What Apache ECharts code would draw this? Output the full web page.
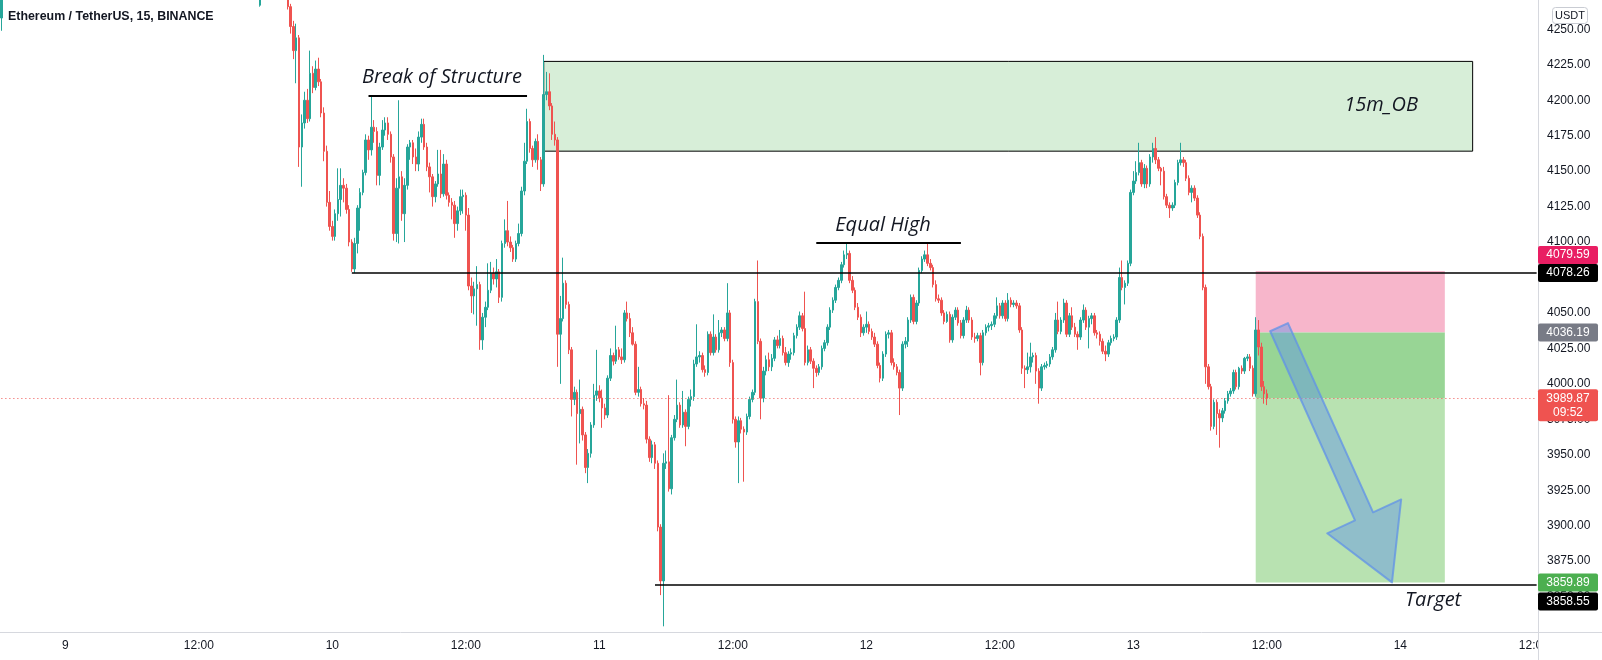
<!DOCTYPE html>
<html><head><meta charset="utf-8">
<script src="https://cdn.jsdelivr.net/npm/echarts@6/dist/echarts.min.js"></script>
<style>html,body{margin:0;padding:0;background:#fff}#c{width:1602px;height:660px}</style>
</head><body><div id="c"></div>
<script>
// ---------- DATA ----------
const slotCount = 553;                 // 15-minute slots on the time axis
const startDay = 8, startMinute = 18 * 60 + 15;
const timeTickLabels = ['9', '12:00', '10', '12:00', '11', '12:00', '12', '12:00', '13', '12:00', '14', '12:00'];
const firstTickSlot = 23, slotsPerTick = 48;
const priceMin = 3825, priceMax = 4270.7, priceStep = 25;

const leftEdgeCandle = [4258, 4290, 4249, 4295]; // slot 0  [open, close, low, high]
const candleStart = 93;
const ohlc = [
[4267,4280,4266,4290], null,null,null,null,null,null,null,null,null,
[4285,4266,4264,4292],[4266,4252,4247,4268],[4252,4235,4229,4256],[4235,4244,4212,4254],[4244,4167,4153,4246],
[4167,4184,4139,4190],[4184,4200,4180,4206],[4200,4187,4184,4208],[4187,4219,4185,4235],[4219,4209,4205,4224],
[4209,4222,4207,4228],[4222,4213,4210,4230],[4213,4191,4188,4215],[4191,4164,4157,4195],[4164,4128,4125,4168],
[4128,4111,4108,4136],[4111,4104,4101,4115],[4104,4120,4101,4123],[4120,4130,4115,4152],[4130,4140,4118,4152],
[4140,4138,4128,4145],[4138,4123,4120,4141],[4123,4100,4097,4126],[4100,4081,4079,4102],[4081,4099,4078.26,4103],
[4099,4124,4092,4126],[4124,4135,4108,4138],[4135,4149,4133,4151],[4149,4172,4147,4176],[4172,4165,4158,4175],
[4165,4181,4161,4203],[4181,4178,4170,4186],[4178,4147,4140,4181],[4147,4167,4140,4170],[4167,4179,4165,4186],
[4179,4184,4175,4188],[4184,4176,4172,4188],[4176,4160,4156,4178],[4160,4106,4101,4162],[4106,4138,4100,4145],
[4138,4146,4099,4200],[4146,4120,4115,4150],[4120,4140,4100,4145],[4140,4167,4137,4169],[4167,4170,4158,4172],
[4170,4160,4155,4172],[4160,4155,4150,4166],[4155,4174,4150,4178],[4174,4183,4170,4187],[4183,4167,4165,4187],
[4167,4153,4150,4170],[4153,4146,4135,4156],[4146,4132,4125,4148],[4132,4141,4128,4143],[4141,4148,4139,4165],
[4148,4134,4131,4165],[4134,4155,4132,4162],[4155,4133,4130,4158],[4133,4128,4125,4135],[4128,4126,4116,4131],
[4126,4113,4103,4129],[4113,4122,4108,4125],[4122,4132,4119,4137],[4132,4133,4120,4137],[4133,4119,4108,4135],
[4119,4069,4066,4124],[4069,4062,4050,4075],[4062,4067,4049,4072],[4067,4070,4041,4083],[4070,4031,4024,4072],
[4031,4047,4024,4050],[4047,4054,4040,4058],[4054,4066,4052,4085],[4066,4078,4064,4086],[4078,4074,4070,4082],
[4074,4079,4068,4088],[4079,4061,4057,4081],[4061,4099,4058,4101],[4099,4108,4096,4116],[4108,4100,4097,4129],
[4100,4096,4093,4104],[4096,4088,4086,4098],[4088,4099,4086,4101],[4099,4106,4097,4113],[4106,4136,4104,4139],
[4136,4157,4133,4170],[4157,4185,4155,4194],[4185,4166,4163,4187],[4166,4158,4153,4168],[4158,4171,4156,4173],
[4171,4158,4151,4176],[4158,4141,4136,4160],[4141,4204,4139,4232],[4204,4206,4200,4220],[4206,4196,4193,4219],
[4196,4176,4172,4198],[4176,4172,4168,4185],[4172,4035,4012,4174],[4035,4046,4000,4062],[4046,4071,4044,4089],
[4071,4056,4053,4073],[4056,4024,4021,4058],[4024,3989,3977,4026],[3989,3994,3985,3998],[3994,3979,3943,3996],
[3979,3982,3958,4003],[3982,3964,3960,3984],[3964,3941,3937,3966],[3941,3951,3930,3954],[3951,3971,3948,3973],
[3971,3992,3969,4000],[3992,3995,3988,4024],[3995,3990,3987,3999],[3990,3983,3969,3996],[3983,3978,3975,3986],
[3978,4004,3976,4006],[4004,4020,4002,4025],[4020,4016,4013,4022],[4016,4024,4014,4041],[4024,4019,4017,4026],
[4019,4017,4014,4025],[4017,4050,4015,4052],[4050,4046,4044,4058],[4046,4036,4033,4050],[4036,4028,4027,4040],
[4028,3994,3992,4030],[3994,3996,3991,4012],[3996,3986,3984,3998],[3986,3985,3982,3990],[3985,3961,3958,3988],
[3961,3948,3945,3963],[3948,3957,3944,3960],[3957,3944,3940,3959],[3944,3899,3896,3946],[3899,3861,3851,3901],
[3861,3944,3829,3951],[3944,3945,3940,3953],[3945,3926,3924,3992],[3926,3962,3922,3964],[3962,3975,3960,3978],
[3975,3985,3973,4003],[3985,3971,3969,3987],[3971,3980,3969,3995],[3980,3970,3956,3982],[3970,3989,3968,3991],
[3989,3991,3984,3996],[3991,4014,3988,4017],[4014,4019,4012,4042],[4019,4020,4015,4023],[4020,4010,4008,4022],
[4010,4008,4005,4013],[4008,4035,4006,4037],[4035,4022,4020,4037],[4022,4033,4020,4049],[4033,4024,4022,4035],
[4024,4036,4022,4045],[4036,4038,4033,4040],[4038,4032,4030,4040],[4032,4050,4030,4071],[4050,4015,4012,4052],
[4015,3975,3972,4017],[3975,3959,3955,3977],[3959,3974,3930,3977],[3974,3968,3965,3976],[3968,3966,3931,3970],
[3966,3977,3964,3979],[3977,3989,3975,3991],[3989,3994,3987,3996],[3994,4058,3992,4060],[4058,4030,4028,4087],
[4030,3990,3975,4032],[3990,4009,3987,4012],[4009,4017,4006,4020],[4017,4012,4009,4022],[4012,4018,4009,4021],
[4018,4031,4016,4033],[4031,4027,4025,4034],[4027,4032,4025,4038],[4032,4022,4020,4034],[4022,4015,4013,4026],
[4015,4021,4012,4023],[4021,4022,4017,4025],[4022,4034,4020,4036],[4034,4040,4032,4042],[4040,4048,4038,4051],
[4048,4039,4037,4050],[4039,4015,4013,4065],[4015,4024,4013,4027],[4024,4016,4014,4026],[4016,4011,3997,4018],
[4011,4008,4005,4013],[4008,4012,4006,4014],[4012,4025,4010,4027],[4025,4029,4023,4031],[4029,4040,4027,4042],
[4040,4052,4038,4054],[4052,4059,4050,4061],[4059,4068,4057,4070],[4068,4073,4066,4075],[4073,4084,4071,4086],
[4084,4091,4082,4094],[4091,4092,4088,4099],[4092,4073,4071,4094],[4073,4066,4064,4076],[4066,4054,4052,4068],
[4054,4047,4045,4057],[4047,4036,4033,4049],[4036,4040,4034,4042],[4040,4042,4036,4051],[4042,4037,4035,4044],
[4037,4033,4031,4039],[4033,4028,4026,4036],[4028,4013,4011,4030],[4013,4004,4001,4015],[4004,4021,4002,4023],
[4021,4035,4019,4037],[4035,4036,4032,4038],[4036,4015,4013,4038],[4015,4012,4010,4018],[4012,4008,4006,4014],
[4008,3997,3978,4010],[3997,4028,3995,4030],[4028,4030,4025,4033],[4030,4045,4026,4047],[4045,4061,4043,4063],
[4061,4044,4042,4063],[4044,4057,4042,4059],[4057,4080,4055,4082],[4080,4088,4078,4090],[4088,4091,4086,4094],
[4091,4085,4083,4099],[4085,4082,4080,4088],[4082,4070,4068,4084],[4070,4060,4058,4073],[4060,4059,4057,4063],
[4059,4050,4048,4061],[4050,4044,4042,4052],[4044,4049,4043,4051],[4049,4031,4029,4051],[4031,4047,4029,4049],
[4047,4052,4045,4054],[4052,4043,4041,4054],[4043,4034,4032,4045],[4034,4045,4032,4047],[4045,4052,4043,4055],
[4052,4045,4043,4054],[4045,4033,4031,4047],[4033,4032,4029,4036],[4032,4034,4030,4036],[4034,4015,4006,4036],
[4015,4036,4013,4038],[4036,4040,4034,4042],[4040,4041,4037,4043],[4041,4042,4038,4044],[4042,4048,4040,4050],
[4048,4055,4046,4061],[4055,4048,4046,4057],[4048,4057,4046,4059],[4057,4046,4044,4059],[4046,4059,4044,4064],
[4059,4056,4054,4061],[4056,4057,4054,4059],[4057,4055,4053,4059],[4055,4038,4036,4057],[4038,4011,4007,4040],
[4011,4010,3997,4013],[4010,4012,4007,4022],[4012,4019,4008,4029],[4019,4020,4015,4022],[4020,4009,4000,4022],
[4009,3997,3986,4011],[3997,4012,3995,4014],[4012,4013,4010,4015],[4013,4014,4011,4016],[4014,4019,4012,4021],
[4019,4024,4017,4026],[4024,4045,4022,4050],[4045,4037,4035,4058],[4037,4045,4035,4047],[4045,4057,4043,4060],
[4057,4035,4033,4059],[4035,4048,4033,4050],[4048,4040,4038,4054],[4040,4035,4033,4043],[4035,4033,4024,4037],
[4033,4045,4031,4047],[4045,4052,4043,4056],[4052,4040,4038,4054],[4040,4046,4025,4048],[4046,4048,4042,4050],
[4048,4036,4034,4050],[4036,4035,4032,4038],[4035,4030,4027,4037],[4030,4023,4021,4032],[4023,4021,4016,4027],
[4021,4029,4019,4031],[4029,4032,4027,4034],[4032,4033,4030,4035],[4033,4045,4031,4047],[4045,4075,4043,4082],
[4075,4068,4066,4087],[4068,4071,4056,4073],[4071,4085,4069,4087],[4085,4135,4083,4137],[4135,4143,4133,4150],
[4143,4149,4141,4157],[4149,4156,4147,4170],[4156,4141,4139,4158],[4141,4152,4138,4155],[4152,4141,4138,4154],
[4141,4160,4139,4162],[4160,4166,4156,4170],[4166,4158,4155,4174],[4158,4152,4150,4160],[4152,4150,4140,4153],
[4150,4132,4130,4153],[4132,4126,4124,4134],[4126,4124,4117,4128],[4124,4126,4122,4128],[4126,4142,4124,4144],
[4142,4156,4140,4158],[4156,4158,4154,4170],[4158,4156,4153,4160],[4156,4145,4143,4158],[4145,4135,4133,4147],
[4135,4138,4128,4140],[4138,4131,4129,4140],[4131,4119,4117,4133],[4119,4104,4102,4121],[4104,4068,4066,4106],
[4068,4012,4000,4070],[4012,3998,3996,4014],[3998,3970,3967,4000],[3970,3987,3968,3989],[3987,3979,3964,3989],
[3979,3976,3955,3982],[3976,3981,3973,3983],[3981,3988,3979,3990],[3988,3993,3986,3995],[3993,3995,3991,3997],
[3995,4008,3993,4010],[4008,3998,3996,4010],[3998,4011,3996,4012],[4011,4009,4007,4013],[4009,4018,4007,4019],
[4018,4019,4016,4021],[4019,4011,4009,4021],[4011,3993,3991,4013],[3993,4038,3991,4047],[4038,4026,4020,4045],
[4026,3998,3995,4029],[3998,3993,3986,4002],[3993,3989.87,3985,3996]
];

// price levels / drawing anchors (slot index, price)
const structureLine = [132, 189, 4203.2];
const supportLine = [126, 552, 4078.26];
const equalHighLine = [293, 345, 4099.6];
const targetLine = [235, 552, 3858.55];
const lastPrice = 3989.87;
const orderBlock = [195, 529, 4227.4, 4164.1];
const position = [451, 519, 4079.59, 4036.19, 3859.89];
const arrowShape = [[456.2,4037.1],[462.6,4042.8],[493.2,3909.4],[503.3,3918.5],[500.0,3860.0],[476.7,3894.6],[486.7,3903.7]];
const notes = [
  ['Break of Structure', 158.4, 4216.4],
  ['Equal High', 317.0, 4111.9],
  ['15m_OB', 496.1, 4196.6],
  ['Target', 514.8, 3847.3]
];
const priceTags = [
  ['4079.59', 4079.59, '#e91e63', -16],
  ['4078.26', 4078.26, '#000000', 0],
  ['4036.19', 4036.19, '#787b86', 0],
  ['3859.89', 3859.89, '#4caf50', 0],
  ['3858.55', 3858.55, '#000000', 17]
];
const countdown = '09:52';

// ---------- BUILD ----------
const UP = '#26a69a', DOWN = '#ef5350', INK = '#131722', AXIS = '#d6d8de';
const categories = [];
for (let i = 0; i < slotCount; i++) {
  const m = startMinute + i * 15;
  const d = startDay + Math.floor(m / 1440);
  const mm = m % 1440;
  categories.push(d + ' ' + String(Math.floor(mm / 60)).padStart(2, '0') + ':' + String(mm % 60).padStart(2, '0'));
}
const seriesData = new Array(slotCount).fill('-');
seriesData[0] = leftEdgeCandle;
ohlc.forEach((r, k) => { seriesData[candleStart + k] = r ? r : '-'; });

const blackLine = { color: '#000', width: 1.5, type: 'solid' };
const boldLine = { color: '#000', width: 2, type: 'solid' };
const option = {
  animation: false,
  backgroundColor: '#ffffff',
  grid: { left: 0, right: 64, top: 0, bottom: 28 },
  xAxis: {
    type: 'category', data: categories, boundaryGap: true,
    axisLine: { show: false }, axisTick: { show: false }, splitLine: { show: false },
    axisLabel: {
      interval: (idx) => idx >= firstTickSlot && (idx - firstTickSlot) % slotsPerTick === 0,
      formatter: (v, idx) => timeTickLabels[Math.round((idx - firstTickSlot) / slotsPerTick)] || '',
      color: INK, fontSize: 12, fontFamily: 'Liberation Sans, Arial, sans-serif', margin: 8
    }
  },
  yAxis: {
    type: 'value', position: 'right', min: priceMin, max: priceMax, interval: priceStep, scale: true,
    axisLine: { show: true, lineStyle: { color: AXIS } }, axisTick: { show: false }, splitLine: { show: false },
    axisLabel: { formatter: v => v.toFixed(2), color: INK, fontSize: 12, fontFamily: 'Liberation Sans, Arial, sans-serif',
      margin: 9, showMinLabel: false, showMaxLabel: false }
  },
  series: [{
    type: 'candlestick', data: seriesData, barWidth: 2, clip: true,
    itemStyle: { color: UP, color0: DOWN, borderColor: UP, borderColor0: DOWN, borderWidth: 1 },
    markLine: {
      silent: true, symbol: ['none', 'none'], label: { show: false }, animation: false,
      lineStyle: { type: 'solid' },
      data: [
        [{ coord: [structureLine[0], structureLine[2]], lineStyle: boldLine }, { coord: [structureLine[1], structureLine[2]] }],
        [{ coord: [supportLine[0], supportLine[2]], lineStyle: blackLine }, { coord: [supportLine[1], supportLine[2]] }],
        [{ coord: [equalHighLine[0], equalHighLine[2]], lineStyle: boldLine }, { coord: [equalHighLine[1], equalHighLine[2]] }],
        [{ coord: [targetLine[0], targetLine[2]], lineStyle: blackLine }, { coord: [targetLine[1], targetLine[2]] }],
        [{ coord: [0, lastPrice], lineStyle: { color: DOWN, width: 1, type: [1, 3] } }, { coord: [slotCount - 1, lastPrice] }]
      ]
    },
    markArea: {
      silent: true, label: { show: false },
      data: [
        [{ coord: [orderBlock[0], orderBlock[2]], itemStyle: { color: '#d7eed8', borderColor: '#000', borderWidth: 1 } }, { coord: [orderBlock[1], orderBlock[3]] }],
        [{ coord: [position[0], position[2]], itemStyle: { color: '#f7b6cb' } }, { coord: [position[1], position[3]] }],
        [{ coord: [position[0], position[3]], itemStyle: { color: '#98d595' } }, { coord: [position[1], lastPrice] }],
        [{ coord: [position[0], lastPrice], itemStyle: { color: '#b8e2b1' } }, { coord: [position[1], position[4]] }]
      ]
    }
  }]
};

const chart = echarts.init(document.getElementById('c'), null, { renderer: 'canvas' });
chart.setOption(option);

const x0 = chart.convertToPixel({ xAxisIndex: 0 }, 0);
const x1 = chart.convertToPixel({ xAxisIndex: 0 }, 1);
const X = i => x0 + i * (x1 - x0);
const Y = p => chart.convertToPixel({ yAxisIndex: 0 }, p);
const axisX = 1538;
const g = [];
// full-width separator + axis extension
g.push({ type: 'line', z: 90, shape: { x1: 0, y1: 632.5, x2: 1602, y2: 632.5 }, style: { stroke: AXIS, lineWidth: 1 } });
g.push({ type: 'rect', z: 95, shape: { x: axisX + 1, y: 633, width: 1602 - axisX, height: 27 }, style: { fill: '#fff' } });
g.push({ type: 'line', z: 96, shape: { x1: axisX + 0.5, y1: 0, x2: axisX + 0.5, y2: 660 }, style: { stroke: AXIS, lineWidth: 1 } });
// title
g.push({ type: 'text', z: 100, x: 8, y: 17, style: { text: 'Ethereum / TetherUS, 15, BINANCE', fill: INK,
  font: 'bold 12.4px "Liberation Sans", Arial, sans-serif', align: 'left', verticalAlign: 'middle' } });
// USDT box
g.push({ type: 'rect', z: 100, shape: { x: 1552.5, y: 7.5, width: 35, height: 16, r: 3 }, style: { fill: '#fff', stroke: '#c9ccd3', lineWidth: 1 } });
g.push({ type: 'text', z: 101, x: 1570, y: 16, style: { text: 'USDT', fill: INK, font: '11px "Liberation Sans", Arial, sans-serif', align: 'center', verticalAlign: 'middle' } });
// notes
notes.forEach(n => g.push({ type: 'text', z: 100, x: X(n[1]), y: Y(n[2]), style: { text: n[0], fill: INK,
  font: 'italic 20px "Open Sans", sans-serif', align: 'center', verticalAlign: 'middle' } }));
// arrow
g.push({ type: 'polygon', z: 80, shape: { points: arrowShape.map(p => [X(p[0]), Y(p[1])]) },
  style: { fill: 'rgba(96,146,232,0.45)', stroke: 'rgba(96,146,232,0.75)', lineWidth: 2, lineJoin: 'round' } });
// price tags
priceTags.forEach(t => {
  const cy = Y(t[1]) + t[3];
  g.push({ type: 'rect', z: 110, shape: { x: axisX, y: cy - 9, width: 60, height: 18, r: 2 }, style: { fill: t[2] } });
  g.push({ type: 'text', z: 111, x: axisX + 30, y: cy, style: { text: t[0], fill: '#fff', font: '12px "Liberation Sans", Arial, sans-serif', align: 'center', verticalAlign: 'middle' } });
});
const ly = Y(lastPrice);
g.push({ type: 'rect', z: 110, shape: { x: axisX, y: ly - 9, width: 60, height: 32, r: 2 }, style: { fill: DOWN } });
g.push({ type: 'text', z: 111, x: axisX + 30, y: ly, style: { text: lastPrice.toFixed(2), fill: '#fff', font: '12px "Liberation Sans", Arial, sans-serif', align: 'center', verticalAlign: 'middle' } });
g.push({ type: 'text', z: 111, x: axisX + 30, y: ly + 14, style: { text: countdown, fill: '#fff', font: '12px "Liberation Sans", Arial, sans-serif', align: 'center', verticalAlign: 'middle' } });
chart.setOption({ graphic: { elements: g } });
</script></body></html>
